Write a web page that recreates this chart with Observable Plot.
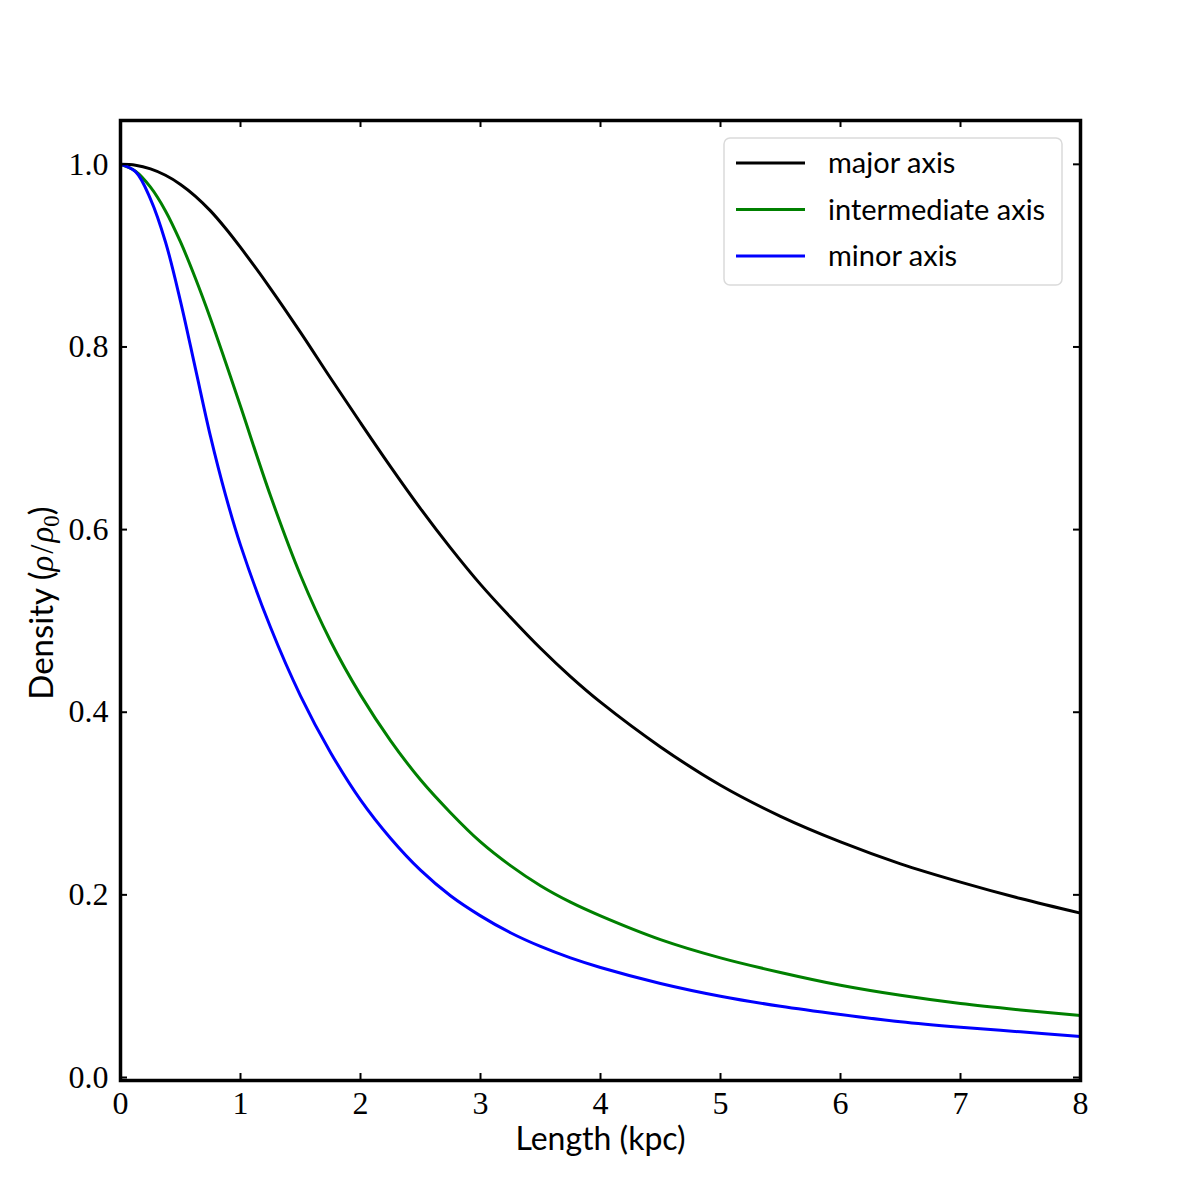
<!DOCTYPE html>
<html>
<head>
<meta charset="utf-8">
<script src="https://cdn.jsdelivr.net/npm/d3@7"></script>
<script src="https://cdn.jsdelivr.net/npm/@observablehq/plot@0.6"></script>
<style>
  body { margin: 0; background: #ffffff; }
  #chart svg { display: block; }
</style>
</head>
<body>
<div id="chart"></div>
<script>
// ---- data ----
const lengthKpc = [0, 0.125, 0.25, 0.375, 0.5, 0.625, 0.75, 0.875, 1, 1.25, 1.5, 1.75, 2, 2.25, 2.5, 2.75, 3, 3.25, 3.5, 3.75, 4, 4.5, 5, 5.5, 6, 6.5, 7, 7.5, 8];
const majorAxis = [1.000, 0.999, 0.995, 0.988, 0.978, 0.965, 0.949, 0.930, 0.909, 0.864, 0.816, 0.766, 0.717, 0.669, 0.623, 0.580, 0.540, 0.504, 0.470, 0.439, 0.411, 0.362, 0.320, 0.286, 0.258, 0.234, 0.214, 0.196, 0.180];
const intermediateAxis = [1.000, 0.9925, 0.975, 0.949, 0.915, 0.875, 0.831, 0.7835, 0.735, 0.637, 0.550, 0.478, 0.419, 0.369, 0.326, 0.290, 0.258, 0.232, 0.210, 0.192, 0.177, 0.151, 0.131, 0.115, 0.101, 0.090, 0.081, 0.074, 0.068];
const minorAxis = [1.000, 0.992, 0.962, 0.915, 0.850, 0.776, 0.702, 0.638, 0.583, 0.493, 0.418, 0.356, 0.304, 0.262, 0.227, 0.199, 0.177, 0.1585, 0.1435, 0.131, 0.1205, 0.103, 0.089, 0.078, 0.069, 0.061, 0.055, 0.050, 0.045];
const seriesNames = ["major axis", "intermediate axis", "minor axis"];
const seriesColors = ["#000000", "#008000", "#0000ff"];
const xTicks = [0, 1, 2, 3, 4, 5, 6, 7, 8];
const yTicks = [0.0, 0.2, 0.4, 0.6, 0.8, 1.0];
const xLabel = "Length (kpc)";

// ---- table for Plot ----
const rows = [];
[majorAxis, intermediateAxis, minorAxis].forEach((vals, i) => {
  vals.forEach((v, j) => rows.push({series: seriesNames[i], x: lengthKpc[j], y: v}));
});

const W = 1200, H = 1200, mL = 120, mR = 120, mT = 120, mB = 120;
const innerW = W - mL - mR, innerH = H - mT - mB;
const tickLen = 7;
const serif = "'Liberation Serif', 'DejaVu Serif', serif";
const sans = "Lato, 'DejaVu Sans', sans-serif";

const chart = Plot.plot({
  width: W, height: H,
  marginLeft: mL, marginRight: mR, marginTop: mT, marginBottom: mB,
  style: {background: "#ffffff", color: "#000000"},
  x: {domain: [0, 8]},
  y: {domain: [-0.0033, 1.048]},
  color: {domain: seriesNames, range: seriesColors},
  marks: [
    Plot.line(rows, {x: "x", y: "y", z: "series", stroke: "series", strokeWidth: 3, curve: "catmull-rom"}),
    Plot.tickX(xTicks, {x: d => d, insetTop: innerH - tickLen, strokeWidth: 2, stroke: "#000"}),
    Plot.tickX(xTicks, {x: d => d, insetBottom: innerH - tickLen, strokeWidth: 2, stroke: "#000"}),
    Plot.tickY(yTicks, {y: d => d, insetRight: innerW - tickLen, strokeWidth: 2, stroke: "#000"}),
    Plot.tickY(yTicks, {y: d => d, insetLeft: innerW - tickLen, strokeWidth: 2, stroke: "#000"}),
    Plot.frame({stroke: "#000", strokeWidth: 3.5}),
    Plot.axisX(xTicks, {tickSize: 0, tickPadding: 11, fontSize: 32, fontFamily: serif, label: null, tickFormat: d => String(d)}),
    Plot.axisY(yTicks, {tickSize: 0, tickPadding: 12, fontSize: 32, fontFamily: serif, label: null, tickFormat: d => d.toFixed(1)}),
    Plot.text([xLabel], {text: d => d, frameAnchor: "bottom", lineAnchor: "middle", dy: 59, fontFamily: sans, fontSize: 32, fill: "#000"})
  ]
});

document.getElementById("chart").appendChild(chart);

const svg = d3.select(chart);

// y label with math
const yl = svg.append("text")
  .attr("transform", "translate(53,603) rotate(-90)")
  .attr("text-anchor", "middle")
  .attr("font-family", sans)
  .attr("font-size", 33)
  .attr("fill", "#000");
yl.append("tspan").text("Density (");
yl.append("tspan").attr("font-family", serif).attr("font-style", "italic").text("ρ");
yl.append("tspan").attr("font-family", serif).attr("dx", 2).text("/");
yl.append("tspan").attr("font-family", serif).attr("font-style", "italic").attr("dx", 2).text("ρ");
yl.append("tspan").attr("font-family", serif).attr("font-size", 23).attr("dy", 6).text("0");
yl.append("tspan").attr("dy", -6).text(")");

// legend
const lg = svg.append("g").attr("text-anchor", "start");
lg.append("rect")
  .attr("x", 724).attr("y", 138).attr("width", 338).attr("height", 147)
  .attr("rx", 6).attr("ry", 6)
  .attr("fill", "#ffffff").attr("fill-opacity", 0.8)
  .attr("stroke", "#dadada").attr("stroke-width", 1.5);
seriesNames.forEach((name, i) => {
  const cy = 163 + i * 46.5;
  lg.append("line")
    .attr("x1", 736).attr("x2", 805).attr("y1", cy).attr("y2", cy)
    .attr("stroke", seriesColors[i]).attr("stroke-width", 3);
  lg.append("text")
    .attr("x", 828).attr("y", cy + 10)
    .attr("text-anchor", "start")
    .attr("font-family", sans).attr("font-size", 29)
    .attr("fill", "#000")
    .text(name);
});
</script>
</body>
</html>
